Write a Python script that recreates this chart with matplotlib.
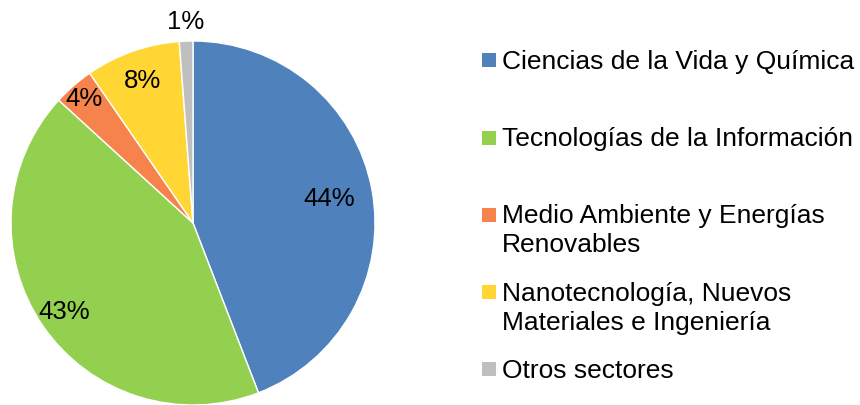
import matplotlib
matplotlib.use("Agg")
import matplotlib.pyplot as plt
from matplotlib.patches import Rectangle
import numpy as np

categories = ["Ciencias de la Vida y Química",
              "Tecnologías de la Información",
              "Medio Ambiente y Energías\nRenovables",
              "Nanotecnología, Nuevos\nMateriales e Ingeniería",
              "Otros sectores"]
values = [44.1, 42.6, 3.6, 8.4, 1.2]
pct_labels = ["44%", "43%", "4%", "8%", "1%"]
colors = ["#4F81BD", "#94D050", "#F6834B", "#FFD633", "#BFBFBF"]
label_radius = [0.76, 0.86, 0.91, 0.835, 1.11]

plt.rcParams['font.family'] = ['Liberation Sans', 'DejaVu Sans']

W, H = 860, 406
fig = plt.figure(figsize=(W / 100, H / 100), dpi=100)

cx, cy, r = 193, 224, 182
ax = fig.add_axes([(cx - r) / W, (H - cy - r) / H, 2 * r / W, 2 * r / H])
wedges, _ = ax.pie(values, colors=colors, startangle=90, counterclock=False,
                   radius=1.0, wedgeprops=dict(edgecolor="white", linewidth=1))
ax.set_xlim(-1, 1)
ax.set_ylim(-1, 1)
ax.set_aspect("equal", adjustable="box")
ax.axis("off")

for w, lab, lr in zip(wedges, pct_labels, label_radius):
    ang = np.deg2rad((w.theta1 + w.theta2) / 2)
    ax.text(lr * np.cos(ang), lr * np.sin(ang), lab, ha="center", va="center",
            fontsize=18.5, color="black")

# legend
marker_centers = [61, 139, 216, 293, 370]
line_baselines = [[69], [146], [223, 252], [301, 330], [378]]
msize = 14
for cat, col, mc, bls in zip(categories, colors, marker_centers, line_baselines):
    fig.patches.append(Rectangle(((482) / W, (H - mc - msize / 2) / H), msize / W, msize / H,
                                 transform=fig.transFigure, facecolor=col, edgecolor="none"))
    for line, bl in zip(cat.split("\n"), bls):
        fig.text(502 / W, (H - bl) / H, line, ha="left", va="baseline",
                 fontsize=19, color="black")

fig.savefig("out.png", dpi=100)
